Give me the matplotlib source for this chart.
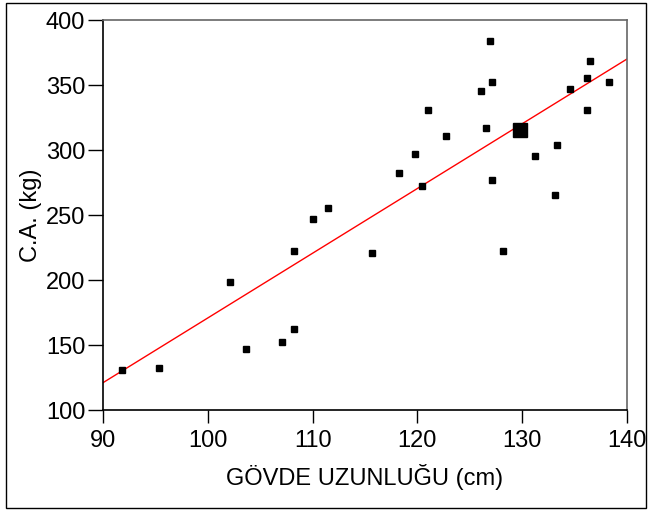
import numpy as np
import matplotlib
matplotlib.use("Agg")
import matplotlib.pyplot as plt
from matplotlib.patches import Rectangle

plt.rcParams['font.family'] = ['Liberation Sans', 'DejaVu Sans']

# Data
body_length = [91.8, 95.3, 102.1, 103.6, 107.1, 108.2, 108.2, 110.0, 111.5, 115.7,
               118.2, 119.8, 120.4, 121.0, 122.7, 126.1, 126.5, 126.9, 127.1, 127.1,
               128.2, 131.2, 133.1, 133.3, 134.6, 136.2, 136.2, 136.5, 138.3]
weight = [130.5, 132.1, 198.7, 146.9, 152.1, 162.1, 222.1, 246.9, 255.4, 220.5,
          282.1, 296.9, 272.1, 330.5, 310.5, 345.4, 317.2, 383.6, 352.1, 276.9,
          222.1, 295.4, 265.4, 303.6, 346.9, 330.5, 355.2, 368.5, 352.1]
mean_x = [129.8]
mean_y = [315.4]
fit_x = [90, 140]
fit_y = [121.0, 370.0]

xticks = [90, 100, 110, 120, 130, 140]
yticks = [100, 150, 200, 250, 300, 350, 400]

W, H = 648, 511
fig = plt.figure(figsize=(W / 100, H / 100), dpi=100)
ax = fig.add_axes([103 / W, 1 - 410 / H, (627 - 103) / W, (410 - 20) / H])

ax.plot(fit_x, fit_y, color='#ff0000', lw=1.0, zorder=2)
ax.plot(body_length, weight, ls='none', marker='s', ms=4.3, color='black', zorder=3)
ax.plot(mean_x, mean_y, ls='none', marker='s', ms=10, color='black', zorder=3)

ax.set_xlim(90, 140)
ax.set_ylim(100, 400)
ax.set_xticks(xticks)
ax.set_yticks(yticks)
ax.tick_params(axis='x', direction='out', length=9.4, width=1.0, pad=5, labelsize=17)
ax.tick_params(axis='y', direction='out', length=10.8, width=1.0, pad=2, labelsize=17)
for s in ['left', 'bottom']:
    ax.spines[s].set_color('black')
    ax.spines[s].set_linewidth(1.2)
for s in ['top', 'right']:
    ax.spines[s].set_color('#666666')
    ax.spines[s].set_linewidth(1.2)

ax.set_xlabel('GÖVDE UZUNLUĞU (cm)', fontsize=17, labelpad=9)
ax.set_ylabel('C.A. (kg)', fontsize=17, labelpad=3)

fig.patches.append(Rectangle((6 / W, 1 - 508 / H), (646 - 6) / W, (508 - 3) / H,
                             transform=fig.transFigure, fill=False,
                             edgecolor='black', lw=1.0))

fig.savefig('out.png', dpi=100)
